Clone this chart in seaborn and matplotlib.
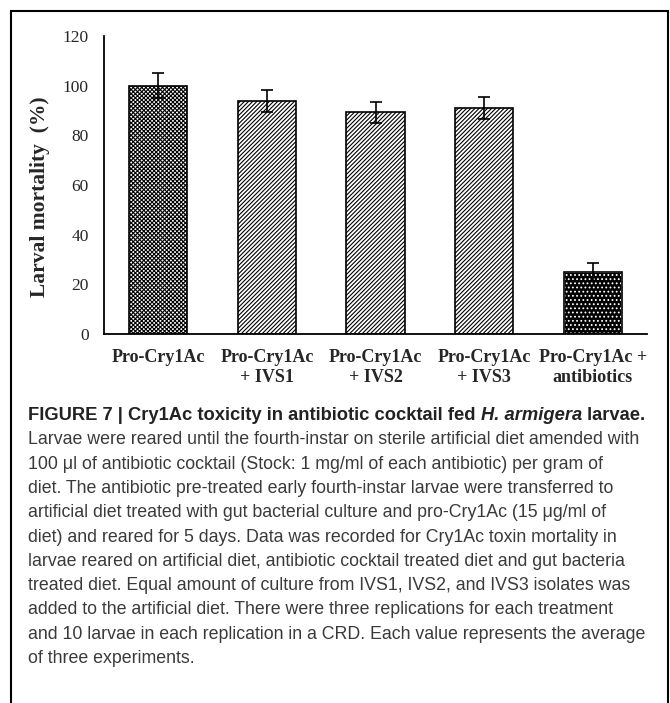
import numpy as np
import pandas as pd
import seaborn as sns
import matplotlib.pyplot as plt
from matplotlib.patches import Rectangle

# values
treatments = ["Pro-Cry1Ac", "Pro-Cry1Ac\n+ IVS1", "Pro-Cry1Ac\n+ IVS2",
              "Pro-Cry1Ac\n+ IVS3", "Pro-Cry1Ac +\nantibiotics"]
mortality = [100, 93.8, 89.2, 91.0, 25.0]
errors = [5.0, 4.6, 4.1, 4.6, 3.6]
hatches = ["xxxxxxxx", "////////", "////////", "////////", "...."]

yticks = [0, 20, 40, 60, 80, 100, 120]

caption_bold = ["FIGURE 7 | Cry1Ac toxicity in antibiotic cocktail fed ",
                "H. armigera", " larvae."]
caption_lines = [
    "Larvae were reared until the fourth-instar on sterile artificial diet amended with",
    "100 \u03bcl of antibiotic cocktail (Stock: 1 mg/ml of each antibiotic) per gram of",
    "diet. The antibiotic pre-treated early fourth-instar larvae were transferred to",
    "artificial diet treated with gut bacterial culture and pro-Cry1Ac (15 \u03bcg/ml of",
    "diet) and reared for 5 days. Data was recorded for Cry1Ac toxin mortality in",
    "larvae reared on artificial diet, antibiotic cocktail treated diet and gut bacteria",
    "treated diet. Equal amount of culture from IVS1, IVS2, and IVS3 isolates was",
    "added to the artificial diet. There were three replications for each treatment",
    "and 10 larvae in each replication in a CRD. Each value represents the average",
    "of three experiments.",
]

df = pd.DataFrame({"treatment": treatments, "mortality": mortality})

sns.set_style("white")
plt.rcParams["hatch.linewidth"] = 0.8
plt.rcParams["font.family"] = ["Liberation Serif", "DejaVu Serif"]

W, H = 670, 703
fig = plt.figure(figsize=(W / 100, H / 100), dpi=100)
ax = fig.add_axes([104 / W, 1 - 334 / H, (647 - 104) / W, (334 - 36) / H])

sns.barplot(data=df, x="treatment", y="mortality", color="white", saturation=1,
            edgecolor="black", linewidth=1.2, width=0.535, errorbar=None, ax=ax)

for p, h in zip(ax.patches, hatches):
    p.set_hatch(h)
last = ax.patches[-1]
last.set_facecolor("black")
last.set_edgecolor("white")
ax.add_patch(Rectangle(last.get_xy(), last.get_width(), last.get_height(),
                       fill=False, edgecolor="black", lw=1.2, zorder=3))

xs = [p.get_x() + p.get_width() / 2 for p in ax.patches[:5]]
ax.errorbar(xs, mortality, yerr=errors, fmt="none", ecolor="black",
            elinewidth=1.2, capsize=4.5, capthick=1.2, zorder=4)

ax.set_xlim(-0.5, 4.5)
ax.set_ylim(0, 120)
ax.set_yticks(yticks)
ax.set_xlabel("")
ax.set_ylabel("Larval mortality  (%)", fontsize=15.5, fontweight="bold")
ax.yaxis.set_label_coords(-0.1, 0.46)
ax.tick_params(axis="both", length=0)
ax.tick_params(axis="y", pad=11, labelsize=12.5)
ax.tick_params(axis="x", pad=11, labelsize=13)
for lab in ax.get_xticklabels():
    lab.set_fontweight("bold")
    lab.set_linespacing(1.2)
sns.despine(ax=ax)
for s in ["left", "bottom"]:
    ax.spines[s].set_color("black")
    ax.spines[s].set_linewidth(1.3)

# caption
sans = ["Liberation Sans", "DejaVu Sans"]
bold_size = 13.2
cap_size = 12.75
x0 = 28 / W
y0 = 414 + 6
step = 24.3
t = fig.text(x0, 1 - y0 / H, caption_bold[0], fontsize=bold_size, family=sans,
             weight="bold", color="#222222", va="baseline")
t2 = ax.annotate(caption_bold[1], xy=(1, 0), xycoords=t, fontsize=bold_size,
                 family=sans, weight="bold", style="italic", color="#222222",
                 va="bottom", annotation_clip=False)
ax.annotate(caption_bold[2], xy=(1, 0), xycoords=t2, fontsize=bold_size,
            family=sans, weight="bold", color="#222222", va="bottom",
            annotation_clip=False)
for i, line in enumerate(caption_lines, start=1):
    fig.text(x0, 1 - (y0 + i * step) / H, line, fontsize=cap_size, family=sans,
             color="#3a3a3a", va="baseline")

# frame around the figure panel
fig.add_artist(Rectangle((11 / W, -0.05), (668 - 11) / W, 1.05 - 11 / H,
                         transform=fig.transFigure, fill=False,
                         edgecolor="black", lw=1.5))

fig.savefig("out.png", dpi=100)
